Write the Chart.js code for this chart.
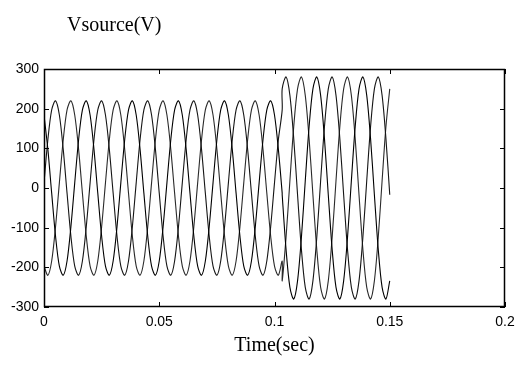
<!DOCTYPE html>
<html><head><meta charset="utf-8">
<script src="https://cdn.jsdelivr.net/npm/chart.js@4.4.1/dist/chart.umd.min.js"></script>
<style>html,body{margin:0;padding:0;background:#fff;}#wrap{width:526px;height:365px;}</style>
</head><body><div id="wrap"><canvas id="c" width="526" height="365"></canvas></div>
<script>
const titleText = 'Vsource(V)';
const xAxisTitle = 'Time(sec)';
const xTicks = [0, 0.05, 0.1, 0.15, 0.2];
const xTickLabels = ['0', '0.05', '0.1', '0.15', '0.2'];
const yTicks = [-300, -200, -100, 0, 100, 200, 300];
const yTickLabels = ['-300', '-200', '-100', '0', '100', '200', '300'];

// sample times (s); the step at ~0.1033 s appears twice (before / after the amplitude change)
const time = [
  0, 0.001667, 0.003333, 0.005, 0.006667, 0.008333,
  0.01, 0.011667, 0.013333, 0.015, 0.016667, 0.018333,
  0.02, 0.021667, 0.023333, 0.025, 0.026667, 0.028333,
  0.03, 0.031667, 0.033333, 0.035, 0.036667, 0.038333,
  0.04, 0.041667, 0.043333, 0.045, 0.046667, 0.048333,
  0.05, 0.051667, 0.053333, 0.055, 0.056667, 0.058333,
  0.06, 0.061667, 0.063333, 0.065, 0.066667, 0.068333,
  0.07, 0.071667, 0.073333, 0.075, 0.076667, 0.078333,
  0.08, 0.081667, 0.083333, 0.085, 0.086667, 0.088333,
  0.09, 0.091667, 0.093333, 0.095, 0.096667, 0.098333,
  0.1, 0.101667, 0.103333,
  0.103333, 0.105, 0.106667, 0.108333,
  0.11, 0.111667, 0.113333, 0.115, 0.116667, 0.118333,
  0.12, 0.121667, 0.123333, 0.125, 0.126667, 0.128333,
  0.13, 0.131667, 0.133333, 0.135, 0.136667, 0.138333,
  0.14, 0.141667, 0.143333, 0.145, 0.146667, 0.148333,
  0.15
];

const phaseA = [
  184, 98, -13, -121, -197, -220, -184, -98, 13, 121, 197, 220,
  184, 98, -13, -121, -197, -220, -184, -98, 13, 121, 197, 220,
  184, 98, -13, -121, -197, -220, -184, -98, 13, 121, 197, 220,
  184, 98, -13, -121, -197, -220, -184, -98, 13, 121, 197, 220,
  184, 98, -13, -121, -197, -220, -184, -98, 13, 121, 197, 220,
  184, 98, -13,
  -17, -154, -250, -280, -234, -125, 17, 154, 250, 280,
  234, 125, -17, -154, -250, -280, -234, -125, 17, 154,
  250, 280, 234, 125, -17, -154, -250, -280, -234
];

const phaseB = [
  13, 121, 197, 220, 184, 98, -13, -121, -197, -220, -184, -98,
  13, 121, 197, 220, 184, 98, -13, -121, -197, -220, -184, -98,
  13, 121, 197, 220, 184, 98, -13, -121, -197, -220, -184, -98,
  13, 121, 197, 220, 184, 98, -13, -121, -197, -220, -184, -98,
  13, 121, 197, 220, 184, 98, -13, -121, -197, -220, -184, -98,
  13, 121, 197,
  250, 280, 234, 125, -17, -154, -250, -280, -234, -125,
  17, 154, 250, 280, 234, 125, -17, -154, -250, -280,
  -234, -125, 17, 154, 250, 280, 234, 125, -17
];

const phaseC = [
  -197, -220, -184, -98, 13, 121, 197, 220, 184, 98, -13, -121,
  -197, -220, -184, -98, 13, 121, 197, 220, 184, 98, -13, -121,
  -197, -220, -184, -98, 13, 121, 197, 220, 184, 98, -13, -121,
  -197, -220, -184, -98, 13, 121, 197, 220, 184, 98, -13, -121,
  -197, -220, -184, -98, 13, 121, 197, 220, 184, 98, -13, -121,
  -197, -220, -184,
  -234, -125, 17, 154, 250, 280, 234, 125, -17, -154,
  -250, -280, -234, -125, 17, 154, 250, 280, 234, 125,
  -17, -154, -250, -280, -234, -125, 17, 154, 250
];

const seriesColors = ['#000000', '#151515', '#2a2a2a'];

function pts(values) { return time.map((t, i) => ({ x: t, y: values[i] })); }

const framePlugin = {
  id: 'frame',
  afterDraw(chart) {
    const { ctx, chartArea: a, scales } = chart;
    ctx.save();
    ctx.strokeStyle = '#000';
    ctx.lineWidth = 1.5;
    ctx.strokeRect(a.left + 0.5, a.top + 0.5, a.right - a.left - 1, a.bottom - a.top - 1);
    ctx.lineWidth = 1;
    ctx.beginPath();
    const tl = 5;
    xTicks.forEach(v => {
      const px = Math.round(scales.x.getPixelForValue(v)) + 0.5;
      ctx.moveTo(px, a.bottom); ctx.lineTo(px, a.bottom - tl);
      ctx.moveTo(px, a.top); ctx.lineTo(px, a.top + tl);
    });
    yTicks.forEach(v => {
      const py = Math.round(scales.y.getPixelForValue(v)) + 0.5;
      ctx.moveTo(a.left, py); ctx.lineTo(a.left + tl, py);
      ctx.moveTo(a.right, py); ctx.lineTo(a.right - tl, py);
    });
    ctx.stroke();
    ctx.fillStyle = '#000';
    ctx.font = '20px "Liberation Serif", "Times New Roman", serif';
    ctx.textAlign = 'left';
    ctx.textBaseline = 'alphabetic';
    ctx.fillText(titleText, 67, 31);
    ctx.restore();
  }
};

const tickFont = { family: '"Liberation Sans", Arial, sans-serif', size: 14 };

new Chart(document.getElementById('c'), {
  type: 'line',
  data: {
    datasets: [
      { data: pts(phaseA), borderColor: seriesColors[0] },
      { data: pts(phaseB), borderColor: seriesColors[1] },
      { data: pts(phaseC), borderColor: seriesColors[2] }
    ]
  },
  options: {
    responsive: false,
    animation: false,
    devicePixelRatio: 1,
    layout: { padding: { top: 69, right: 21, left: 0, bottom: 0 } },
    elements: { point: { radius: 0 }, line: { borderWidth: 1.1, tension: 0.3, fill: false } },
    plugins: { legend: { display: false }, title: { display: false }, tooltip: { enabled: false } },
    scales: {
      x: {
        type: 'linear', min: 0, max: 0.2,
        grid: { display: false, drawTicks: false }, border: { display: false },
        afterBuildTicks: s => { s.ticks = xTicks.map(v => ({ value: v })); },
        afterFit: s => { s.height = 58; },
        ticks: { callback: (v, i) => xTickLabels[i], font: tickFont, color: '#000', padding: 7, maxRotation: 0, autoSkip: false },
        title: { display: true, text: xAxisTitle, color: '#000', font: { family: '"Liberation Serif", "Times New Roman", serif', size: 20 }, padding: { top: 0, bottom: 7 } }
      },
      y: {
        type: 'linear', min: -300, max: 300,
        grid: { display: false, drawTicks: false }, border: { display: false },
        afterBuildTicks: s => { s.ticks = yTicks.map(v => ({ value: v })); },
        afterFit: s => { s.width = 44; },
        ticks: { callback: (v, i) => yTickLabels[i], font: tickFont, color: '#000', padding: 5, autoSkip: false }
      }
    }
  },
  plugins: [framePlugin]
});
</script>
</body></html>
